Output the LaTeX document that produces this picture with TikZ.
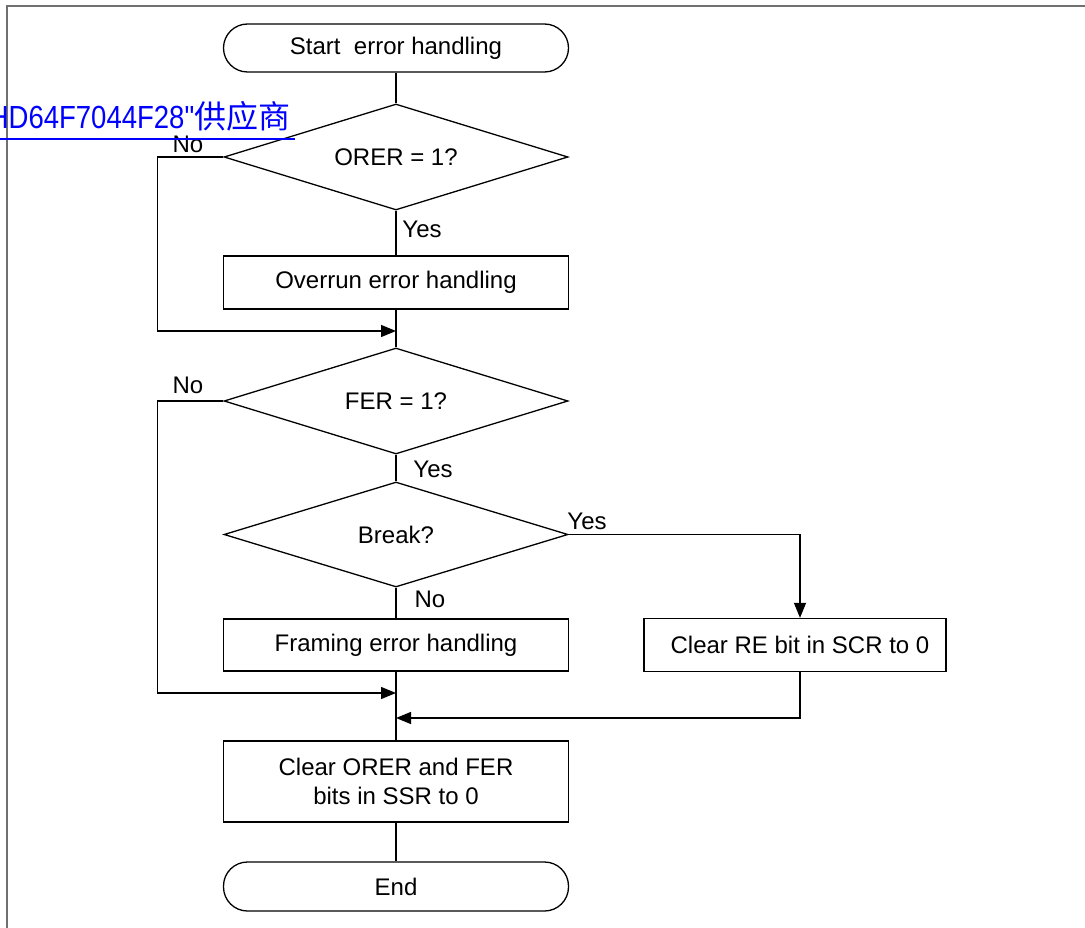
\documentclass[tikz,border=0pt]{standalone}
\usepackage{fontspec}
\setmainfont{Liberation Sans}
\newfontfamily\lsans{Liberation Sans}
\newfontfamily\cjk{Noto Sans CJK SC}
\usetikzlibrary{shapes.geometric,arrows.meta}
\begin{document}
\begin{tikzpicture}[x=1pt,y=-1pt, line width=1.3pt,
  every node/.style={font=\fontsize{24}{29}\selectfont},
  proc/.style={draw, rectangle, minimum width=345pt, minimum height=53pt, inner sep=0pt, align=center},
  term/.style={draw, rectangle, rounded corners=24pt, minimum width=345pt, minimum height=48pt, inner sep=0pt},
  dec/.style={draw, diamond, minimum width=344pt, minimum height=106pt, inner sep=0pt, aspect=3.2},
  arr/.style={-{Triangle[length=15pt,width=12pt]}},
  lab/.style={inner sep=0pt},
  frame/.style={line width=2pt, draw={rgb,255:red,112;green,112;blue,112}}]
\useasboundingbox (0,0) rectangle (1085,928);
% frame
\draw[frame] (6.5,928) -- (6.5,6.5) -- (1085,6.5);
% nodes
\node[term] (start) at (396,48) {Start\ \ error handling};
\node[dec] (orer) at (396,157) {ORER = 1?};
\node[proc] (over) at (396,282.5) {Overrun error handling};
\node[dec] (fer) at (396,401) {FER = 1?};
\node[dec, minimum height=105pt] (brk) at (396,534.5) {Break?};
\node[proc, minimum height=52pt] (fram) at (396,645) {Framing error handling};
\node[proc, minimum width=302pt, minimum height=53pt] (clre) at (795,645) {\hspace*{10pt}Clear RE bit in SCR to 0};
\node[proc, minimum height=81pt] (clr) at (396,781.5) {Clear ORER and FER\\bits in SSR to 0};
\node[term, minimum height=49pt] (end) at (396,886.5) {End};
% junctions
\coordinate (m1) at (396,331);
\coordinate (m2) at (396,693);
\coordinate (m3) at (396,718);
% labels
\node[lab] (no1) at (188,144) {No};
\node[lab] (yes1) at (422,229) {Yes};
\node[lab] (no2) at (188,385) {No};
\node[lab] (yes2) at (433,469) {Yes};
\node[lab] (yes3) at (587,521) {Yes};
\node[lab] (no3) at (430,599) {No};
% connectors
\draw (start) -- (orer);
\draw (orer) -- (over);
\draw[arr] (orer.west) -- ++(-66,0) |- (m1);
\draw (over) -- (fer);
\draw (fer) -- (brk);
\draw[arr] (fer.west) -- ++(-66,0) |- (m2);
\draw (brk) -- (fram);
\draw[arr] (brk.east) -| ([xshift=5pt]clre.north);
\draw[arr] ([xshift=5pt]clre.south) |- (m3);
\draw (fram) -- (clr);
\draw (clr) -- (end);
% blue link text
\node[anchor=base east, inner sep=0pt, text={rgb,255:red,0;green,0;blue,255}, font=\fontsize{32}{32}\selectfont] (link) at (291,129) {\scalebox{0.86}[1]{\lsans HD64F7044F28"}{\cjk 供应商}};
\draw[line width=2pt, draw={rgb,255:red,0;green,0;blue,255}] ([yshift=-10pt]link.base west) -- ([yshift=-10pt,xshift=4pt]link.base east);
\end{tikzpicture}
\end{document}
